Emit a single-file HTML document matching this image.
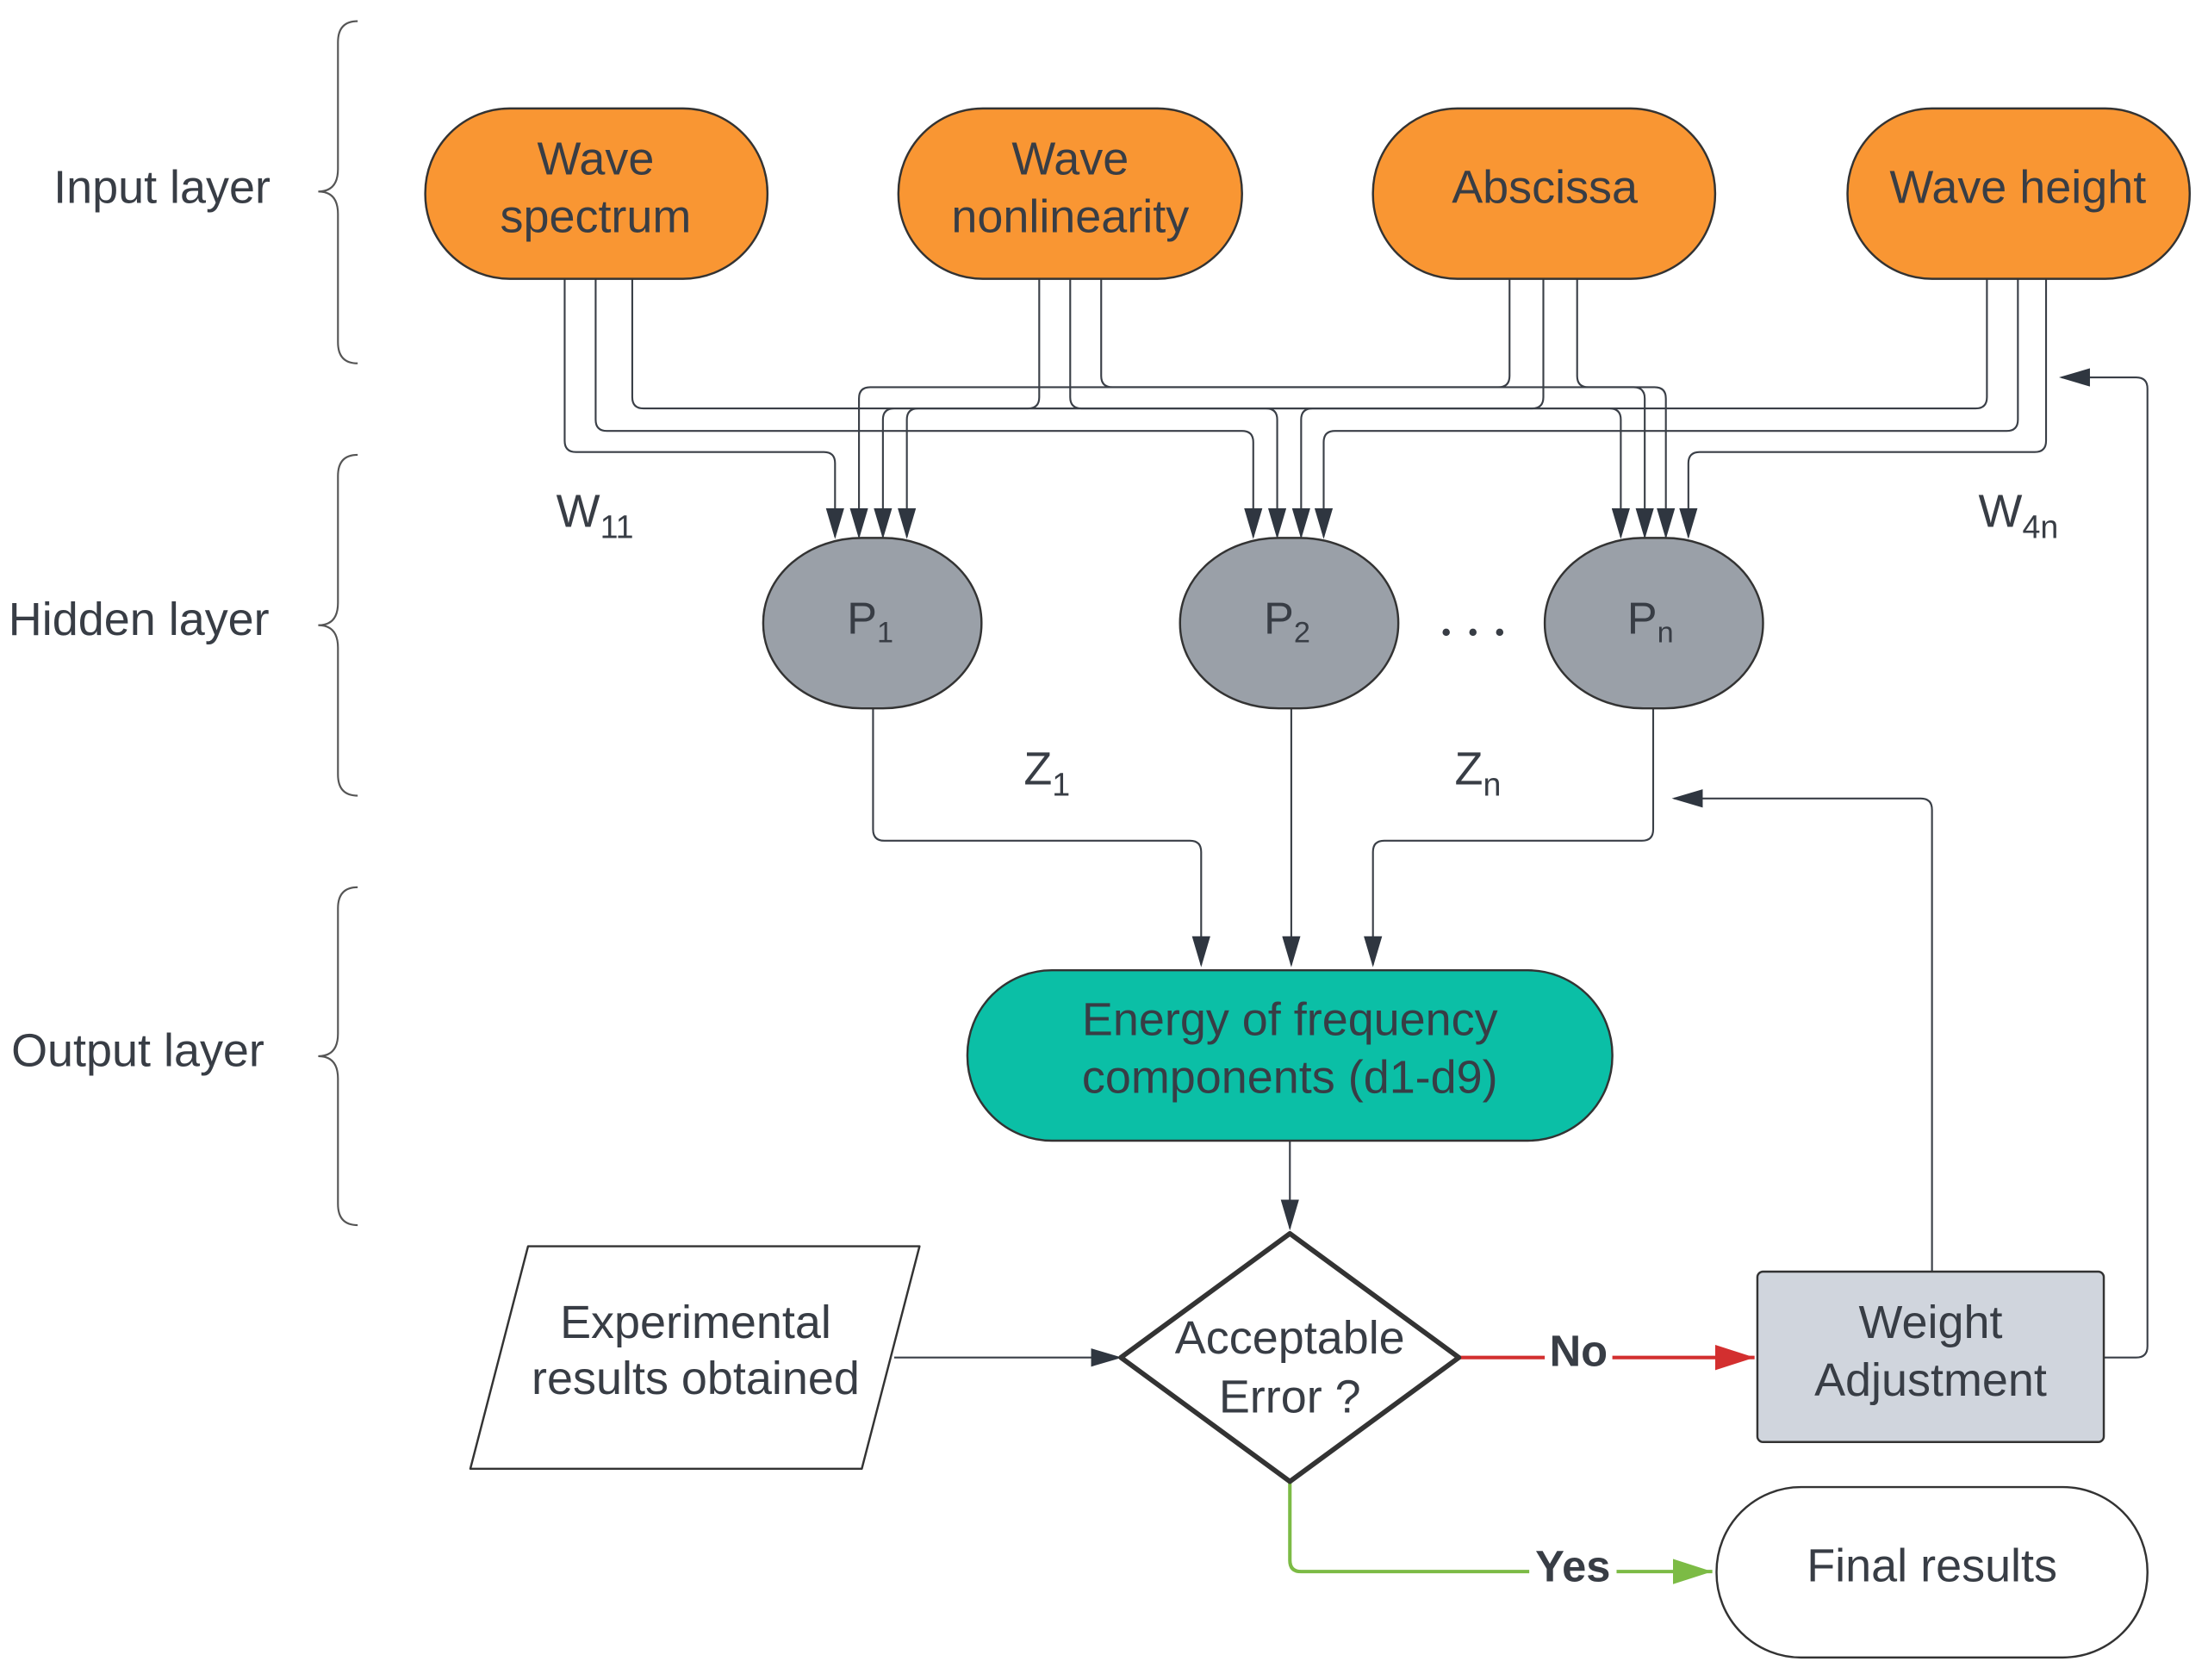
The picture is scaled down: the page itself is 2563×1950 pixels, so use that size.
<!DOCTYPE html>
<html><head><meta charset="utf-8"><style>
html,body{margin:0;padding:0;background:#fff;}
svg{display:block;}
text{font-family:"Liberation Sans",sans-serif;fill:#383d45;}
</style></head><body>
<svg width="2563" height="1950" viewBox="0 0 1568 1193" preserveAspectRatio="none" xmlns="http://www.w3.org/2000/svg">
<defs>
<marker id="a" markerWidth="22" markerHeight="13" refX="11" refY="6" orient="auto" markerUnits="userSpaceOnUse" viewBox="0 0 12 12" preserveAspectRatio="none"><path d="M0,0 L12,6 L0,12 z" fill="#2f3640"/></marker>
<marker id="ar" markerWidth="28" markerHeight="18" refX="12" refY="6" orient="auto" markerUnits="userSpaceOnUse" viewBox="0 0 12 12" preserveAspectRatio="none"><path d="M0,0 L12,6 L0,12 z" fill="#d32f2f"/></marker>
<marker id="ag" markerWidth="28" markerHeight="18" refX="12" refY="6" orient="auto" markerUnits="userSpaceOnUse" viewBox="0 0 12 12" preserveAspectRatio="none"><path d="M0,0 L12,6 L0,12 z" fill="#7cbb45"/></marker>
</defs>
<g fill="none" stroke="#555" stroke-width="1.3">
<path d="M254,15 Q240,15 240,30 L240,120 Q240,136 226,136 Q240,136 240,152 L240,243 Q240,258 254,258"/>
<path d="M254,323 Q240,323 240,338 L240,428 Q240,444 226,444 Q240,444 240,460 L240,550 Q240,565 254,565"/>
<path d="M254,630 Q240,630 240,645 L240,734 Q240,750 226,750 Q240,750 240,766 L240,855 Q240,870 254,870"/>
</g>
<text x="38" y="144" font-size="33">Input layer</text>
<text x="6" y="451" font-size="33">Hidden layer</text>
<text x="8" y="757" font-size="33">Output layer</text>
<g fill="none" stroke="#3a3f47" stroke-width="1.3" stroke-linejoin="round" marker-end="url(#a)">
<path d="M401,198 V313 Q401,321 409,321 H585 Q593,321 593,329 V381"/>
<path d="M423,198 V298 Q423,306 431,306 H882 Q890,306 890,314 V381"/>
<path d="M449,198 V282 Q449,290 457,290 H1143 Q1151,290 1151,298 V381"/>
<path d="M738,198 V282 Q738,290 730,290 H652 Q644,290 644,298 V381"/>
<path d="M760,198 V282 Q760,290 768,290 H899 Q907,290 907,298 V381"/>
<path d="M782,198 V267 Q782,275 790,275 H1160 Q1168,275 1168,283 V381"/>
<path d="M1072,198 V267 Q1072,275 1064,275 H618 Q610,275 610,283 V381"/>
<path d="M1096,198 V282 Q1096,290 1088,290 H932 Q924,290 924,298 V381"/>
<path d="M1120,198 V267 Q1120,275 1128,275 H1175 Q1183,275 1183,283 V381"/>
<path d="M1411,198 V282 Q1411,290 1403,290 H635 Q627,290 627,298 V381"/>
<path d="M1433,198 V298 Q1433,306 1425,306 H948 Q940,306 940,314 V381"/>
<path d="M1453,198 V313 Q1453,321 1445,321 H1207 Q1199,321 1199,329 V381"/>
<path d="M620,503 V589 Q620,597 628,597 H845 Q853,597 853,605 V685"/>
<path d="M917,503 V685"/>
<path d="M1174,503 V589 Q1174,597 1166,597 H983 Q975,597 975,605 V685"/>
<path d="M916,810 V872"/>
<path d="M635,964 H795"/>
<path d="M1372,903 V575 Q1372,567 1364,567 H1189"/>
<path d="M1494,964 H1517 Q1525,964 1525,956 V276 Q1525,268 1517,268 H1464"/>
</g>
<path d="M1036,964 H1246" stroke="#d32f2f" stroke-width="2.5" fill="none" marker-end="url(#ar)"/>
<path d="M916,1052 V1108 Q916,1116 924,1116 H1216" stroke="#7cbb45" stroke-width="2.5" fill="none" marker-end="url(#ag)"/>
<rect x="1097" y="944" width="48" height="34" fill="#fff"/>
<text x="1121" y="970" font-size="31" font-weight="bold" text-anchor="middle" fill="#333">No</text>
<rect x="1086" y="1097" width="62" height="34" fill="#fff"/>
<text x="1117" y="1123" font-size="31" font-weight="bold" text-anchor="middle" fill="#333">Yes</text>
<g fill="#f99633" stroke="#333" stroke-width="1.5">
<rect x="302" y="77" width="243" height="121" rx="60"/>
<rect x="638" y="77" width="244" height="121" rx="60"/>
<rect x="975" y="77" width="243" height="121" rx="60"/>
<rect x="1312" y="77" width="243" height="121" rx="60"/>
</g>
<g font-size="33" text-anchor="middle">
<text x="423" y="124">Wave</text><text x="423" y="165">spectrum</text>
<text x="760" y="124">Wave</text><text x="760" y="165">nonlinearity</text>
<text x="1097" y="144">Abscissa</text>
<text x="1433" y="144">Wave height</text>
</g>
<g fill="#9aa0a8" stroke="#333" stroke-width="1.5">
<rect x="542" y="382" width="155" height="121" rx="70" ry="60"/>
<rect x="838" y="382" width="155" height="121" rx="70" ry="60"/>
<rect x="1097" y="382" width="155" height="121" rx="70" ry="60"/>
</g>
<g font-size="32" text-anchor="middle">
<text x="618" y="450">P<tspan font-size="21" dy="6">1</tspan></text>
<text x="914" y="450">P<tspan font-size="21" dy="6">2</tspan></text>
<text x="1172" y="450">P<tspan font-size="21" dy="6">n</tspan></text>
</g>
<g fill="#383d45"><circle cx="1027" cy="449" r="2.6"/><circle cx="1046" cy="449" r="2.6"/><circle cx="1065" cy="449" r="2.6"/></g>
<g font-size="33">
<text x="395" y="374">W<tspan font-size="23" dy="8">11</tspan></text>
<text x="1405" y="374">W<tspan font-size="23" dy="8">4n</tspan></text>
<text x="727" y="557">Z<tspan font-size="23" dy="8">1</tspan></text>
<text x="1033" y="557">Z<tspan font-size="23" dy="8">n</tspan></text>
</g>
<rect x="687" y="689" width="458" height="121" rx="60" fill="#0bbfa6" stroke="#333" stroke-width="1.5"/>
<g font-size="33" text-anchor="middle">
<text x="916" y="735">Energy of frequency</text>
<text x="916" y="776">components (d1-d9)</text>
</g>
<path d="M916,876 L1036,964 L916,1052 L796,964 Z" fill="#fff" stroke="#333" stroke-width="3.5" stroke-linejoin="round"/>
<g font-size="33" text-anchor="middle">
<text x="916" y="961">Acceptable</text>
<text x="916" y="1003">Error ?</text>
</g>
<path d="M375,885 L653,885 L612,1043 L334,1043 Z" fill="#fff" stroke="#333" stroke-width="1.5" stroke-linejoin="round"/>
<g font-size="33" text-anchor="middle">
<text x="494" y="950">Experimental</text>
<text x="494" y="990">results obtained</text>
</g>
<rect x="1248" y="903" width="246" height="121" rx="4" fill="#d0d5dd" stroke="#333" stroke-width="1.5"/>
<g font-size="33" text-anchor="middle">
<text x="1371" y="950">Weight</text>
<text x="1371" y="991">Adjustment</text>
</g>
<rect x="1219" y="1056" width="306" height="121" rx="60" fill="#fff" stroke="#333" stroke-width="1.5"/>
<text x="1372" y="1123" font-size="33" text-anchor="middle">Final results</text>
</svg>
</body></html>
